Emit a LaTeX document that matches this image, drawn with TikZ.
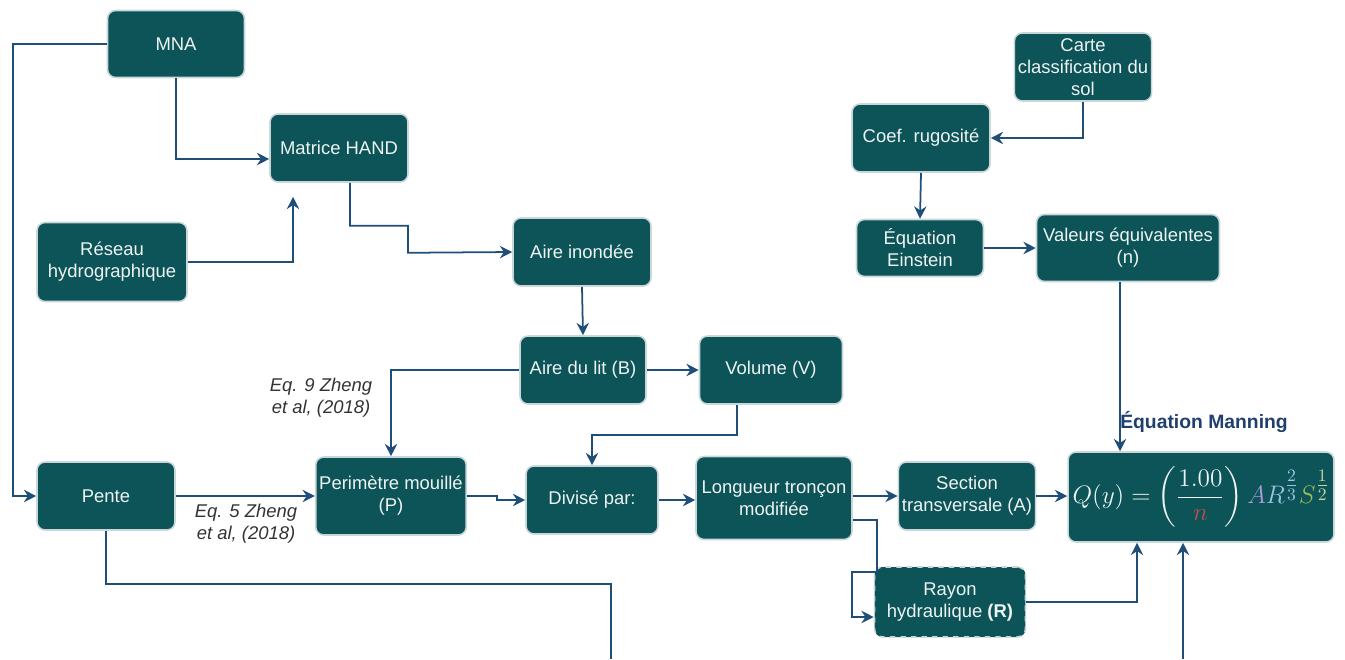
\documentclass[tikz,border=0pt]{standalone}
\usepackage{amsmath}
\usepackage{fontspec}
\setmainfont{Liberation Sans}
\usetikzlibrary{arrows.meta}
\definecolor{boxfill}{HTML}{0D5459}
\definecolor{boxline}{HTML}{C9D6DA}
\definecolor{boxtext}{HTML}{EEF3F3}
\definecolor{linkcol}{HTML}{1F4E79}
\definecolor{titlecol}{HTML}{1F3F6E}
\definecolor{nred}{HTML}{C0504D}
\definecolor{lav}{HTML}{A99BD8}
\definecolor{lblue}{HTML}{9DC3E6}
\definecolor{sgreen}{HTML}{9BBB59}
\definecolor{sgreenl}{HTML}{C4D79B}
\begin{document}
\begin{tikzpicture}[x=0.02cm,y=-0.02cm,
procbox/.style={draw=boxline,line width=0.9pt,fill=boxfill,rounded corners=0.16cm,text=boxtext,align=center,inner sep=2pt,font=\fontsize{10.5}{12.5}\selectfont,minimum width=2.76cm,minimum height=1.36cm},
link/.style={draw=linkcol,line width=1pt,-{Stealth[length=7pt,width=7pt]}},
plainlink/.style={draw=linkcol,line width=1pt},
refnote/.style={align=center,text=black!80,font=\fontsize{10.5}{12.5}\selectfont\itshape},
eqtitle/.style={text=titlecol,font=\fontsize{11}{13}\selectfont\bfseries}]
\useasboundingbox (0,0) rectangle (1345,659);

\node[procbox,minimum width=2.74cm,minimum height=1.34cm] (mna) at (176,44) {MNA};
\node[procbox] (hand) at (339,148) {Matrice HAND};
\node[procbox,minimum width=3.0cm,minimum height=1.58cm] (reseau) at (112,262) {Réseau\\hydrographique};
\node[procbox] (inondee) at (582,252) {Aire inondée};
\node[procbox,minimum width=2.52cm] (lit) at (583,370) {Aire du lit (B)};
\node[procbox,minimum width=2.86cm] (volume) at (771,370) {Volume (V)};
\node[procbox] (pente) at (106,496) {Pente};
\node[procbox,minimum width=3.0cm,minimum height=1.56cm] (perim) at (391,496) {Perimètre mouillé\\(P)};
\node[procbox,minimum width=2.64cm] (divise) at (592,500) {Divisé par:};
\node[procbox,minimum width=3.12cm,minimum height=1.66cm] (longueur) at (774,498) {Longueur tronçon\\modifiée};
\node[procbox,minimum width=2.72cm] (section) at (967,496) {Section\\transversale (A)};
\node[procbox,minimum width=5.32cm,minimum height=1.8cm] (manning) at (1201,497)
  {\Large$Q(y)=\left(\dfrac{1.00}{\color{nred}n}\right){\color{lav}A}{\color{lblue}R}^{\color{lblue}\tfrac{2}{3}}{\color{sgreen}S}^{\color{sgreenl}\tfrac{1}{2}}$};
\node[procbox,dashed,minimum width=3.02cm,minimum height=1.4cm] (rayon) at (950,602) {Rayon\\hydraulique \textbf{(R)}};
\node[procbox,minimum width=2.74cm] (carte) at (1083,67) {Carte\\classification du\\sol};
\node[procbox] (coef) at (921,138) {Coef. rugosité};
\node[procbox,minimum width=2.54cm,minimum height=1.14cm] (einstein) at (920,248) {Équation\\Einstein};
\node[procbox,minimum width=3.66cm,minimum height=1.34cm] (valeurs) at (1128,248) {Valeurs équivalentes\\(n)};

\node[refnote] (eq9) at (321,398) {Eq. 9 Zheng\\et al, (2018)};
\node[refnote] (eq5) at (246,524) {Eq. 5 Zheng\\et al, (2018)};
\node[eqtitle] (mantitle) at (1204,422) {Équation Manning};

\coordinate (out1) at (611,659);
\coordinate (in1) at (1183,659);

\draw[link] (mna.west) -- ++(-94,0) |- (pente.west);
\draw[link] (mna.south) |- ([yshift=-0.22cm]hand.west);
\draw[link] (reseau.east) -| ([xshift=-0.92cm,yshift=-0.28cm]hand.south);
\draw[link] ([xshift=0.22cm]hand.south) -- ++(0,43) -| ++(58,27) -- (inondee.west);
\draw[link] (inondee.south) -- (lit.north);
\draw[link] (lit.west) -| (perim.north);
\draw[link] (lit.east) -- (volume.west);
\draw[link] ([xshift=-0.68cm]volume.south) -- ++(0,30) -| (divise.north);
\draw[link] (pente.east) -- (perim.west);
\draw[link] (perim.east) -- ++(30,0) |- (divise.west);
\draw[link] (divise.east) -- (divise.east -| longueur.west);
\draw[link] (longueur.east |- section.west) -- (section.west);
\draw[link] (section.east) -- (manning.west |- section.east);
\draw[link] ([yshift=-0.44cm]longueur.east) -- ++(24,0) -- ++(0,52) -- ++(-25,0) |- ([yshift=-0.3cm]rayon.west);
\draw[link] (rayon.east) -| ([xshift=-1.28cm]manning.south);
\draw[plainlink] (pente.south) -- ++(0,53) -| (out1);
\draw[link] (in1) -- (in1 |- manning.south);
\draw[link] ([xshift=-0.16cm]valeurs.south) -- ([xshift=-0.16cm]valeurs.south |- manning.north);
\draw[link] (carte.south) |- (coef.east);
\draw[link] (coef.south) -- (einstein.north);
\draw[link] (einstein.east) -- (valeurs.west);
\end{tikzpicture}
\end{document}
